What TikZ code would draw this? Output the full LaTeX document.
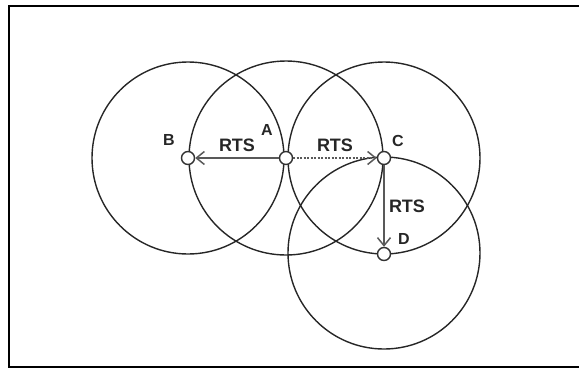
\documentclass[tikz,border=0pt]{standalone}
\usepackage{fontspec}
\setmainfont{Liberation Sans}
\usetikzlibrary{arrows.meta}
\begin{document}
\begin{tikzpicture}[x=1pt,y=-1pt,
  coverage/.style={draw=black!85,line width=1.4pt},
  station/.style={circle,draw=black!80,fill=white,line width=1.4pt,minimum size=13pt,inner sep=0pt},
  lbl/.style={font=\bfseries\fontsize{16}{16}\selectfont,text=black!85,inner sep=0pt},
  rts/.style={lbl,font=\bfseries\fontsize{18}{18}\selectfont},
  msg/.style={draw=black!65,line width=2pt,-{Straight Barb[length=8pt,width=13pt,line width=1.5pt]}}
]
\useasboundingbox (0,0) rectangle (579,368);
\draw[line width=2pt] (590,6) -- (9,6) -- (9,367) -- (590,367);
% transmission ranges
\draw[coverage] (188,158) circle (96);
\draw[coverage] (286,158) circle (97);
\draw[coverage] (384,158) circle (96);
\draw[coverage] (384,253) circle (96);
% stations
\node[station] (B) at (188,158) {};
\node[station] (A) at (286,158) {};
\node[station] (C) at (384,158) {};
\node[station] (D) at (384,254) {};
\node[lbl] (lB) at (169,140) {B};
\node[lbl] (lA) at (267,130) {A};
\node[lbl] (lC) at (398,141) {C};
\node[lbl] (lD) at (404,239) {D};
% RTS messages
\draw[msg] (A) -- (B);
\draw[msg,dash pattern=on 2pt off 1.5pt] (A) -- (C);
\draw[msg] (C) -- (D);
\node[rts] (r1) at (237,145) {RTS};
\node[rts] (r2) at (335,145) {RTS};
\node[rts] (r3) at (407,206) {RTS};
\end{tikzpicture}
\end{document}
